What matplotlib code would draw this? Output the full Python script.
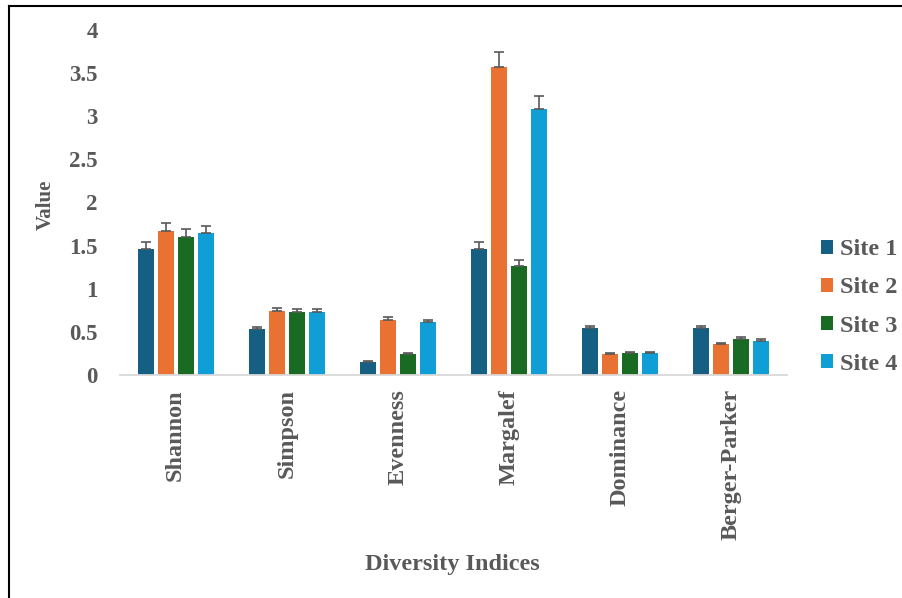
import matplotlib
matplotlib.use("Agg")
import matplotlib.pyplot as plt
from matplotlib.lines import Line2D
import numpy as np

# diversity indices per site (mean and error)
indices = ["Shannon", "Simpson", "Evenness", "Margalef", "Dominance", "Berger-Parker"]
sites = ["Site 1", "Site 2", "Site 3", "Site 4"]
site1 = [1.46, 0.53, 0.15, 1.46, 0.545, 0.545]
site2 = [1.67, 0.74, 0.64, 3.57, 0.24, 0.36]
site3 = [1.60, 0.73, 0.24, 1.26, 0.255, 0.42]
site4 = [1.65, 0.73, 0.61, 3.08, 0.255, 0.40]
err1 = [0.08, 0.03, 0.01, 0.08, 0.02, 0.02]
err2 = [0.09, 0.035, 0.035, 0.17, 0.015, 0.015]
err3 = [0.09, 0.035, 0.02, 0.07, 0.015, 0.02]
err4 = [0.08, 0.03, 0.03, 0.15, 0.015, 0.015]

colors = ["#156082", "#E97132", "#196B24", "#0F9ED5"]
txt_col = "#595959"
FONT = "Liberation Serif"

fig = plt.figure(figsize=(9.03, 5.98), dpi=100)
ax = fig.add_axes([120 / 903, 1 - 375 / 598, 667 / 903, 345 / 598])

x = np.arange(len(indices))
step = 0.18
width = 0.144
vals = [site1, site2, site3, site4]
errs = [err1, err2, err3, err4]
for i, (v, e) in enumerate(zip(vals, errs)):
    pos = x + (i - 1.5) * step
    ax.bar(pos, v, width=width, color=colors[i], label=sites[i], zorder=2)
    ax.errorbar(pos, v, yerr=[np.zeros(len(e)), e], fmt="none", ecolor=txt_col,
                elinewidth=1.2, capsize=3.6, capthick=1.2, zorder=3)

ax.set_xlim(-0.5, len(indices) - 0.5)
ax.set_ylim(0, 4)
ax.set_yticks(np.arange(0, 4.01, 0.5))
ax.set_yticklabels(["0", "0.5", "1", "1.5", "2", "2.5", "3", "3.5", "4"])
ax.set_xticks(x)
ax.set_xticklabels(indices, rotation=90)

for side in ["top", "right", "left"]:
    ax.spines[side].set_visible(False)
ax.spines["bottom"].set_color("#D9D9D9")
ax.spines["bottom"].set_linewidth(1.3)
ax.tick_params(axis="both", length=0, colors=txt_col)
ax.tick_params(axis="y", pad=16)
ax.tick_params(axis="x", pad=10)
for lab in ax.get_yticklabels():
    lab.set_fontfamily(FONT)
    lab.set_fontweight("bold")
    lab.set_fontsize(16.5)
for lab in ax.get_xticklabels():
    lab.set_fontfamily(FONT)
    lab.set_fontweight("bold")
    lab.set_fontsize(17.5)

ax.set_ylabel("Value", fontfamily=FONT, fontweight="bold", fontsize=15, color=txt_col)
ax.yaxis.set_label_coords(-0.096, 0.493)
ax.set_xlabel("Diversity Indices", fontfamily=FONT, fontweight="bold", fontsize=17.5, color=txt_col)
ax.xaxis.set_label_coords(0.499, -0.519)

leg = ax.legend(loc="center left", bbox_to_anchor=(799 / 903, 1 - 307 / 598),
                bbox_transform=fig.transFigure, frameon=False,
                prop={"family": FONT, "weight": "bold", "size": 17.5},
                handlelength=0.5, handleheight=0.5, handletextpad=0.3,
                labelspacing=0.70)
for t in leg.get_texts():
    t.set_color(txt_col)

# outer frame (left and top edges)
fig.add_artist(Line2D([8.5 / 903, 8.5 / 903], [0, 1 - 6 / 598], color="black", lw=1.5,
                      transform=fig.transFigure))
fig.add_artist(Line2D([8.5 / 903, 1], [1 - 6 / 598, 1 - 6 / 598], color="black", lw=1.5,
                      transform=fig.transFigure))

fig.savefig("out.png", dpi=100)
